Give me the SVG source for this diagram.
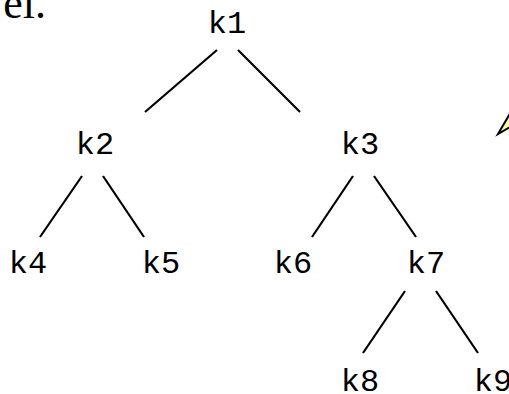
<svg xmlns="http://www.w3.org/2000/svg" width="509" height="394" viewBox="0 0 509 394">
<style>
.k{font-family:"Liberation Mono","Courier New",monospace;font-size:32px;fill:#000;text-anchor:middle}
.e{stroke:#000;stroke-width:2.2;fill:none}
</style>
<rect width="509" height="394" fill="#fff"/>
<text x="46" y="18" font-family="Liberation Serif,serif" font-size="44" text-anchor="end">el.</text>
<g id="edges">
<line class="e" x1="217" y1="50" x2="145" y2="112"/>
<line class="e" x1="238" y1="50" x2="300" y2="112"/>
<line class="e" x1="82" y1="176" x2="40" y2="237"/>
<line class="e" x1="103" y1="176" x2="144" y2="237"/>
<line class="e" x1="353" y1="176" x2="312" y2="237"/>
<line class="e" x1="374" y1="176" x2="416" y2="237"/>
<line class="e" x1="405" y1="291" x2="363" y2="353"/>
<line class="e" x1="436" y1="291" x2="478" y2="353"/>
</g>
<g id="k1"><text class="k" x="227" y="33">k1</text></g>
<g id="k2"><text class="k" x="95" y="154">k2</text></g>
<g id="k3"><text class="k" x="360" y="154">k3</text></g>
<g id="k4"><text class="k" x="28" y="273">k4</text></g>
<g id="k5"><text class="k" x="161" y="273">k5</text></g>
<g id="k6"><text class="k" x="293" y="273">k6</text></g>
<g id="k7"><text class="k" x="426" y="273">k7</text></g>
<g id="k8"><text class="k" x="360" y="391">k8</text></g>
<g id="k9"><text class="k" x="493" y="391">k9</text></g>
<polygon points="498,134 512,110 512,126" fill="#ffff99" stroke="#000" stroke-width="2" stroke-linejoin="miter"/>
</svg>
